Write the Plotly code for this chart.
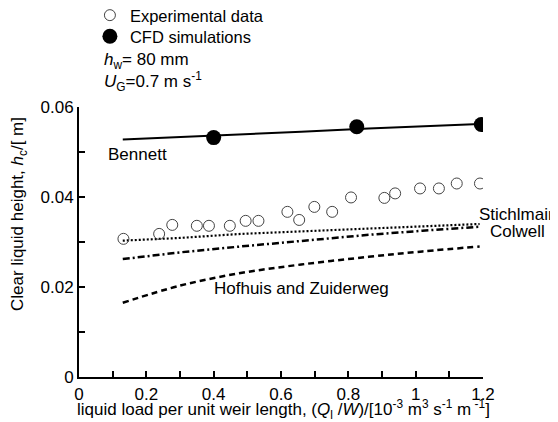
import plotly.graph_objects as go

# ---- data ----
exp_x = [0.132, 0.238, 0.277, 0.350, 0.386, 0.448, 0.495, 0.533, 0.619, 0.654,
         0.699, 0.752, 0.808, 0.907, 0.939, 1.013, 1.069, 1.122, 1.191]
exp_y = [0.0307, 0.0318, 0.0338, 0.0336, 0.0336, 0.0336, 0.0347, 0.0347, 0.0367, 0.0349,
         0.0378, 0.0367, 0.0399, 0.0398, 0.0408, 0.0419, 0.0419, 0.0430, 0.0430]

cfd_x = [0.400, 0.825, 1.195]
cfd_y = [0.0532, 0.0556, 0.0561]

corr_x = [0.13, 0.30, 0.48, 0.66, 0.86, 1.02, 1.19]
bennett = [0.0528, 0.0533, 0.0539, 0.0545, 0.0552, 0.0557, 0.0562]
stichlmair = [0.0303, 0.0309, 0.0318, 0.0324, 0.0330, 0.0335, 0.0340]
colwell = [0.0262, 0.0277, 0.0290, 0.0303, 0.0316, 0.0325, 0.0334]
hofhuis = [0.0165, 0.0203, 0.0231, 0.0250, 0.0267, 0.0279, 0.0290]

x_ticks = [0, 0.2, 0.4, 0.6, 0.8, 1.0, 1.2]
x_tick_labels = ["0", "0.2", "0.4", "0.6", "0.8", "1", "1.2"]
y_ticks = [0, 0.02, 0.04, 0.06]
y_tick_labels = ["0", "0.02", "0.04", "0.06"]

FONT = "Liberation Sans, Arial, sans-serif"
FS = 17

fig = go.Figure()

fig.add_trace(go.Scatter(x=corr_x, y=bennett, mode="lines", showlegend=False,
                         line=dict(color="black", width=2)))
fig.add_trace(go.Scatter(x=corr_x, y=stichlmair, mode="lines", showlegend=False,
                         line=dict(color="black", width=2.2, dash="2px,2px")))
fig.add_trace(go.Scatter(x=corr_x, y=colwell, mode="lines", showlegend=False,
                         line=dict(color="black", width=2.5, dash="7px,3px,2px,3px")))
fig.add_trace(go.Scatter(x=corr_x, y=hofhuis, mode="lines", showlegend=False,
                         line=dict(color="black", width=2.5, dash="6px,4px", shape="spline")))

fig.add_trace(go.Scatter(x=exp_x, y=exp_y, mode="markers", name="Experimental data",
                         legend="legend",
                         marker=dict(symbol="circle-open", size=11,
                                     color="#444", line=dict(width=1, color="#444"))))
fig.add_trace(go.Scatter(x=cfd_x, y=cfd_y, mode="markers", name="CFD simulations",
                         legend="legend2",
                         marker=dict(symbol="circle", size=15, color="black")))

# the page body has an 8px margin, so the figure is offset by 8px
leg_common = dict(xanchor="left", yanchor="top", font=dict(size=16.5),
                  bgcolor="rgba(0,0,0,0)", itemsizing="trace")
fig.update_layout(
    width=550, height=414,
    margin=dict(l=71, r=75, t=99, b=45, autoexpand=False),
    paper_bgcolor="white", plot_bgcolor="white",
    font=dict(family=FONT, size=FS, color="black"),
    legend=dict(x=0.027, y=1.404, **leg_common),
    legend2=dict(x=0.027, y=1.326, **leg_common),
)

fig.update_xaxes(range=[0, 1.2], tickvals=x_ticks, ticktext=x_tick_labels,
                 showline=True, linecolor="black", linewidth=2, mirror=False,
                 ticks="inside", ticklen=6, tickwidth=2, tickcolor="black",
                 ticklabelstandoff=1,
                 minor=dict(dtick=0.1, tick0=0, ticks="inside", ticklen=6,
                            tickwidth=2, tickcolor="black"),
                 showgrid=False, zeroline=False)
fig.update_yaxes(range=[0, 0.06], tickvals=y_ticks, ticktext=y_tick_labels,
                 showline=True, linecolor="black", linewidth=2, mirror=False,
                 ticks="inside", ticklen=6, tickwidth=2, tickcolor="black",
                 minor=dict(dtick=0.01, tick0=0, ticks="inside", ticklen=6,
                            tickwidth=2, tickcolor="black"),
                 showgrid=False, zeroline=False)

def px(xp):
    return (xp - 79) / 404.0

def py(yp):
    return (377 - yp) / 270.0

ann = [
    dict(text="<i>h</i><sub>w</sub>= 80 mm", x=px(102), y=py(61), xanchor="left"),
    dict(text="<i>U</i><sub>G</sub>=0.7 m s<sup>-1</sup>", x=px(102), y=py(81), xanchor="left"),
    dict(text="Bennett", x=px(106), y=py(154), xanchor="left"),
    dict(text="Stichlmair", x=px(516), y=py(214), xanchor="center"),
    dict(text="Colwell", x=px(517), y=py(231), xanchor="center"),
    dict(text="Hofhuis and Zuiderweg", x=px(212), y=py(288), xanchor="left"),
    dict(text="Clear liquid height, <i>h</i><sub>c</sub>/[ m]", x=px(19), y=py(214),
         xanchor="center", textangle=-90),
    dict(text="liquid load per unit weir length, (<i>Q</i><sub>l</sub> /<i>W</i>)/[10<sup>-3</sup> m<sup>3</sup> s<sup>-1</sup> m<sup> -1</sup>]",
         x=px(283), y=py(409), xanchor="center"),
]
for a in ann:
    fig.add_annotation(xref="paper", yref="paper", yanchor="middle", showarrow=False,
                       font=dict(size=FS, family=FONT, color="black"), **a)

fig.write_html("out.html")
